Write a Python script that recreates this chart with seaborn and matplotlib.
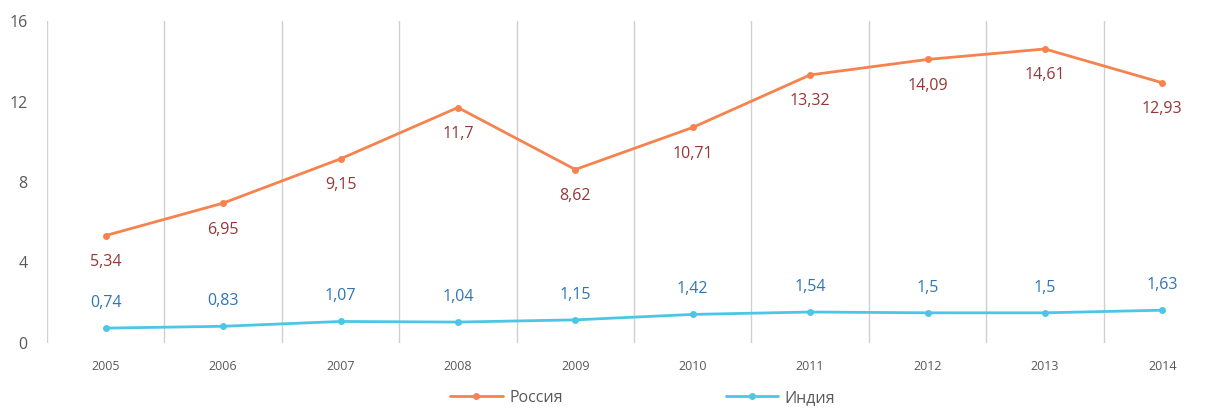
import matplotlib
matplotlib.use("Agg")
import matplotlib.pyplot as plt
import pandas as pd
import seaborn as sns

years = ["2005", "2006", "2007", "2008", "2009", "2010", "2011", "2012", "2013", "2014"]
russia = [5.34, 6.95, 9.15, 11.7, 8.62, 10.71, 13.32, 14.09, 14.61, 12.93]
india = [0.74, 0.83, 1.07, 1.04, 1.15, 1.42, 1.54, 1.5, 1.5, 1.63]
series_names = ["Россия", "Индия"]

sns.set_theme(style="white")
plt.rcParams["font.family"] = ["Open Sans", "DejaVu Sans"]

df = pd.DataFrame({"year": years * 2,
                   "value": russia + india,
                   "series": [series_names[0]] * len(years) + [series_names[1]] * len(years)})
df["x"] = list(range(len(years))) * 2

line_colors = {"Россия": "#F6824E", "Индия": "#4CC6E6"}
label_colors = {"Россия": "#953735", "Индия": "#2E75B6"}

fig = plt.figure(figsize=(12.08, 4.08), dpi=100)
ax = fig.add_axes([47 / 1208, 1 - 343 / 408, (1221 - 47) / 1208, (343 - 21) / 408])

sns.lineplot(data=df, x="x", y="value", hue="series", palette=line_colors, marker="o",
             markersize=5, markeredgewidth=0, linewidth=2, ax=ax, legend=False)

for name, vals in zip(series_names, [russia, india]):
    dy = -19 if name == "Россия" else 18
    for i, v in enumerate(vals):
        ax.annotate(f"{v:g}".replace(".", ","), (i, v), xytext=(0, dy), textcoords="offset points",
                    ha="center", va="center", fontsize=11.5, color=label_colors[name])

ax.set_xlim(-0.5, len(years) - 0.5)
ax.set_ylim(0, 16)
ax.set_yticks([0, 4, 8, 12, 16])
ax.set_xticks(range(len(years)))
ax.set_xticklabels(years)
ax.set_xticks([i + 0.5 for i in range(-1, len(years))], minor=True)
ax.grid(False)
ax.grid(True, which="minor", axis="x", color="#D0D0D0", linewidth=1)
for s in ax.spines.values():
    s.set_visible(False)
ax.tick_params(axis="x", which="both", length=0, labelsize=9, colors="#595959", pad=12)
ax.tick_params(axis="y", length=0, labelsize=11.5, colors="#595959", pad=14)
ax.set_xlabel("")
ax.set_ylabel("")

handles = [plt.Line2D([], [], color=line_colors[n], marker="o", markersize=5, markeredgewidth=0,
                      linewidth=2) for n in series_names]
leg = fig.legend(handles, series_names, loc="center", bbox_to_anchor=(0.532, 1 - 398 / 408), ncol=2,
                 frameon=False, fontsize=11.5, handlelength=3.3, columnspacing=10.2, handletextpad=0.4)
for t in leg.get_texts():
    t.set_color("#595959")

fig.savefig("out.png", dpi=100)
